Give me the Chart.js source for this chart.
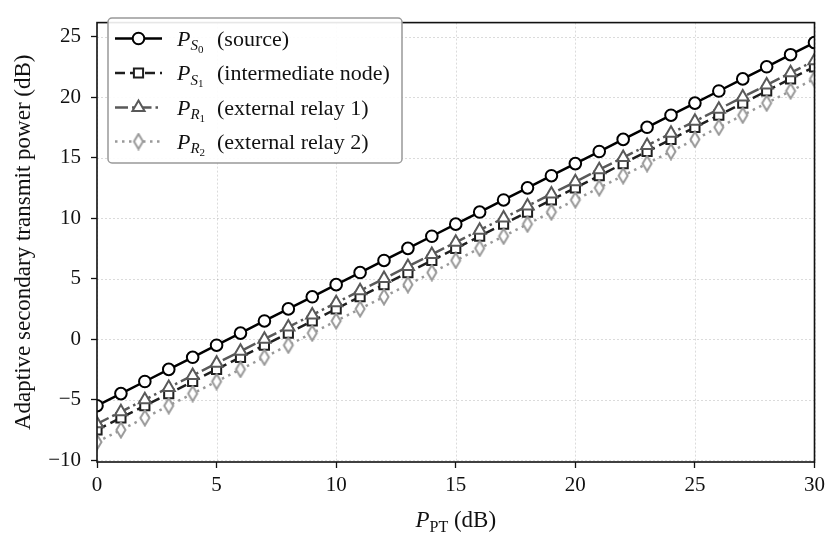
<!DOCTYPE html>
<html>
<head>
<meta charset="utf-8">
<script src="https://cdn.jsdelivr.net/npm/chart.js@4.4.1/dist/chart.umd.min.js"></script>
<style>
  html, body { margin: 0; padding: 0; background: #fff; }
  #wrap { width: 830px; height: 533px; }
</style>
</head>
<body>
<div id="wrap"><canvas id="chart" width="830" height="533"></canvas></div>
<script>
// values
const ptDb = [0, 1, 2, 3, 4, 5, 6, 7, 8, 9, 10, 11, 12, 13, 14, 15, 16, 17, 18, 19, 20, 21, 22, 23, 24, 25, 26, 27, 28, 29, 30];
const sourcePower = [-5.5, -4.5, -3.5, -2.5, -1.5, -0.5, 0.5, 1.5, 2.5, 3.5, 4.5, 5.5, 6.5, 7.5, 8.5, 9.5, 10.5, 11.5, 12.5, 13.5, 14.5, 15.5, 16.5, 17.5, 18.5, 19.5, 20.5, 21.5, 22.5, 23.5, 24.5];
const nodePower = [-7.5, -6.5, -5.5, -4.5, -3.5, -2.5, -1.5, -0.5, 0.5, 1.5, 2.5, 3.5, 4.5, 5.5, 6.5, 7.5, 8.5, 9.5, 10.5, 11.5, 12.5, 13.5, 14.5, 15.5, 16.5, 17.5, 18.5, 19.5, 20.5, 21.5, 22.5];
const relay1Power = [-7, -6, -5, -4, -3, -2, -1, 0, 1, 2, 3, 4, 5, 6, 7, 8, 9, 10, 11, 12, 13, 14, 15, 16, 17, 18, 19, 20, 21, 22, 23];
const relay2Power = [-8.5, -7.5, -6.5, -5.5, -4.5, -3.5, -2.5, -1.5, -0.5, 0.5, 1.5, 2.5, 3.5, 4.5, 5.5, 6.5, 7.5, 8.5, 9.5, 10.5, 11.5, 12.5, 13.5, 14.5, 15.5, 16.5, 17.5, 18.5, 19.5, 20.5, 21.5];

const xTicks = [0, 5, 10, 15, 20, 25, 30];
const yTicks = [-10, -5, 0, 5, 10, 15, 20, 25];

const legendSub = ['S', 'S', 'R', 'R'];
const legendIdx = ['0', '1', '1', '2'];
const legendNames = ['(source)', '(intermediate node)', '(external relay 1)', '(external relay 2)'];

const SERIF = '"Liberation Serif", "Times New Roman", serif';
const TEXT = '#111';

// thin diamond marker, chart.js has no such style
function thinDiamond(color) {
    const c = document.createElement('canvas');
    c.width = 14;
    c.height = 18;
    const g = c.getContext('2d');
    g.beginPath();
    g.moveTo(7, 1.5);
    g.lineTo(11.5, 9);
    g.lineTo(7, 16.5);
    g.lineTo(2.5, 9);
    g.closePath();
    g.fillStyle = '#fff';
    g.fill();
    g.lineWidth = 2;
    g.strokeStyle = color;
    g.stroke();
    return c;
}

function pts(ys) {
    return ptDb.map((x, i) => ({ x: x, y: ys[i] }));
}

const datasets = [
    { data: pts(sourcePower), borderColor: '#000', borderDash: [], pointStyle: 'circle', pointRadius: 5.8, order: 3 },
    { data: pts(nodePower), borderColor: '#1e1e1e', borderDash: [10, 5], pointStyle: 'rect', pointRadius: 6.5, order: 2 },
    { data: pts(relay1Power), borderColor: '#595959', borderDash: [13, 4, 2.5, 4], pointStyle: 'triangle', pointRadius: 7, order: 1 },
    { data: pts(relay2Power), borderColor: '#999', borderDash: [2.5, 4.5], pointStyle: thinDiamond('#999'), pointRadius: 7, order: 0 }
].map(ds => Object.assign({
    borderWidth: 2.5,
    pointBorderColor: ds.borderColor,
    pointBackgroundColor: '#fff',
    pointBorderWidth: 2,
    tension: 0,
    clip: 0,
    fill: false
}, ds));

function fmt(v) {
    return v < 0 ? '\u2212' + Math.abs(v) : String(v);
}

// draws P with subscript (and optional sub-subscript), returns the end x
function drawSubbed(ctx, x, y, size, sub, subItalic, subsub) {
    ctx.textAlign = 'left';
    ctx.textBaseline = 'alphabetic';
    ctx.font = 'italic ' + size + 'px ' + SERIF;
    ctx.fillText('P', x, y);
    x += ctx.measureText('P').width;
    const s2 = Math.round(size * 0.68);
    ctx.font = (subItalic ? 'italic ' : '') + s2 + 'px ' + SERIF;
    ctx.fillText(sub, x, y + size * 0.22);
    x += ctx.measureText(sub).width;
    if (subsub) {
        const s3 = Math.round(size * 0.48);
        ctx.font = s3 + 'px ' + SERIF;
        ctx.fillText(subsub, x, y + size * 0.34);
        x += ctx.measureText(subsub).width;
    }
    return x;
}

const decor = {
    id: 'decor',
    beforeDatasetsDraw(chart) {
        const { ctx, chartArea: a, scales } = chart;
        ctx.save();
        ctx.strokeStyle = 'rgba(0,0,0,0.14)';
        ctx.lineWidth = 1;
        ctx.setLineDash([2, 2]);
        xTicks.forEach(v => {
            const px = Math.round(scales.x.getPixelForValue(v)) + 0.5;
            ctx.beginPath();
            ctx.moveTo(px, a.top);
            ctx.lineTo(px, a.bottom);
            ctx.stroke();
        });
        yTicks.forEach(v => {
            const py = Math.round(scales.y.getPixelForValue(v)) + 0.5;
            ctx.beginPath();
            ctx.moveTo(a.left, py);
            ctx.lineTo(a.right, py);
            ctx.stroke();
        });
        ctx.restore();
    },
    afterDatasetsDraw(chart) {
        const { ctx, chartArea: a } = chart;
        ctx.save();

        // frame
        ctx.setLineDash([]);
        ctx.strokeStyle = '#111';
        ctx.lineWidth = 1.6;
        ctx.strokeRect(a.left, a.top, a.right - a.left, a.bottom - a.top);

        // legend box
        const bx = 108, by = 18, bw = 294, bh = 145, r = 4;
        ctx.beginPath();
        ctx.moveTo(bx + r, by);
        ctx.arcTo(bx + bw, by, bx + bw, by + bh, r);
        ctx.arcTo(bx + bw, by + bh, bx, by + bh, r);
        ctx.arcTo(bx, by + bh, bx, by, r);
        ctx.arcTo(bx, by, bx + bw, by, r);
        ctx.closePath();
        ctx.fillStyle = 'rgba(255,255,255,0.9)';
        ctx.fill();
        ctx.strokeStyle = '#999';
        ctx.lineWidth = 1.5;
        ctx.stroke();

        const rows = [38.5, 73, 107.5, 141.5];
        datasets.forEach((ds, i) => {
            const y = rows[i];
            ctx.setLineDash(ds.borderDash);
            ctx.strokeStyle = ds.borderColor;
            ctx.lineWidth = ds.borderWidth;
            ctx.beginPath();
            ctx.moveTo(115, y);
            ctx.lineTo(162, y);
            ctx.stroke();
            ctx.setLineDash([]);
            ctx.fillStyle = '#fff';
            ctx.lineWidth = ds.pointBorderWidth;
            Chart.helpers.drawPoint(ctx, {
                pointStyle: ds.pointStyle,
                radius: ds.pointRadius,
                rotation: 0,
                borderWidth: ds.pointBorderWidth
            }, 138.5, y);

            ctx.fillStyle = TEXT;
            drawSubbed(ctx, 177, y + 7, 22, legendSub[i], true, legendIdx[i]);
            ctx.font = '22px ' + SERIF;
            ctx.fillText(legendNames[i], 217, y + 7);
        });

        // x title: P_PT (dB)
        ctx.fillStyle = TEXT;
        ctx.font = 'italic 23px ' + SERIF;
        let w = ctx.measureText('P').width;
        ctx.font = '16px ' + SERIF;
        w += ctx.measureText('PT').width;
        ctx.font = '23px ' + SERIF;
        w += ctx.measureText(' (dB)').width;
        let x0 = (a.left + a.right) / 2 - w / 2;
        x0 = drawSubbed(ctx, x0, 527, 23, 'PT', false, null);
        ctx.font = '23px ' + SERIF;
        ctx.fillText(' (dB)', x0, 527);

        // y title
        ctx.translate(24, (a.top + a.bottom) / 2);
        ctx.rotate(-Math.PI / 2);
        ctx.textAlign = 'center';
        ctx.textBaseline = 'middle';
        ctx.font = '23px ' + SERIF;
        ctx.fillText('Adaptive secondary transmit power (dB)', 0, 0);

        ctx.restore();
    }
};

const tickFont = { family: SERIF, size: 21 };

new Chart(document.getElementById('chart').getContext('2d'), {
    type: 'line',
    data: { datasets: datasets },
    options: {
        responsive: false,
        animation: false,
        layout: { padding: { top: 7, right: 13, left: 0, bottom: 0 } },
        plugins: { legend: { display: false }, tooltip: { enabled: false } },
        scales: {
            x: {
                type: 'linear',
                min: 0,
                max: 30,
                afterBuildTicks: s => { s.ticks = xTicks.map(v => ({ value: v })); },
                afterFit: s => { s.height = 71; },
                ticks: { font: tickFont, color: TEXT, padding: 5, maxRotation: 0, callback: fmt },
                grid: { drawOnChartArea: false, tickLength: 6, tickColor: '#111', tickWidth: 1.3 },
                border: { display: false }
            },
            y: {
                type: 'linear',
                min: -10.15,
                max: 26.15,
                afterBuildTicks: s => { s.ticks = yTicks.map(v => ({ value: v })); },
                afterFit: s => { s.width = 97; },
                ticks: { font: tickFont, color: TEXT, padding: 10, callback: fmt },
                grid: { drawOnChartArea: false, tickLength: 6, tickColor: '#111', tickWidth: 1.3 },
                border: { display: false }
            }
        }
    },
    plugins: [decor]
});
</script>
</body>
</html>
